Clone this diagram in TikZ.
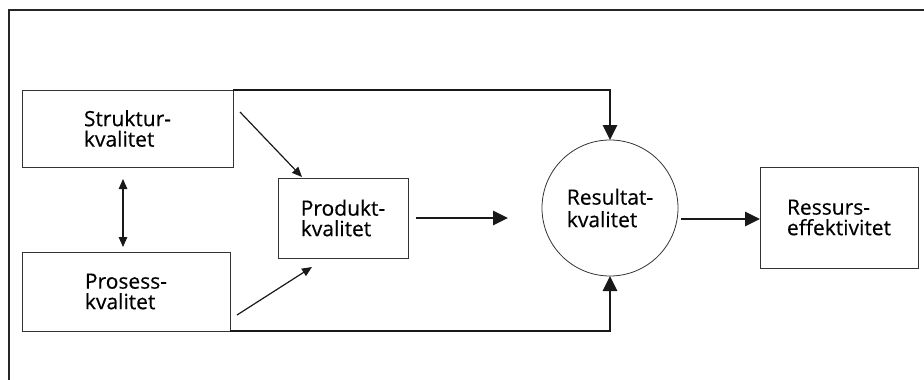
\documentclass[tikz,border=0pt]{standalone}
\usepackage{fontspec}
\setmainfont[FakeBold=0.4]{Open Sans}
\usetikzlibrary{arrows.meta}
\begin{document}
\begin{tikzpicture}[x=1pt,y=-1pt,
  box/.style={draw=black!80, line width=0.8pt, inner sep=0pt, outer sep=0pt,
    align=left, font=\fontsize{21}{20.5}\selectfont},
  ring/.style={circle, draw=black!80, line width=0.8pt, inner sep=0pt, outer sep=0pt,
    minimum size=136pt, align=left, font=\fontsize{21}{22.5}\selectfont},
  frame/.style={draw=black!85, line width=2.6pt},
  mainarrow/.style={draw=black!90, line width=2.9pt, -{Triangle[length=15pt,width=14pt]}},
  thinarrow/.style={draw=black!90, line width=1.2pt, -{Triangle[length=10pt,width=8.5pt]}},
  bothways/.style={draw=black!90, line width=1.2pt, {Triangle[length=10pt,width=8.5pt]}-{Triangle[length=10pt,width=8.5pt]}}]
\useasboundingbox (0,0) rectangle (924,380);

% open outer frame
\draw[frame] (9,382) -- (9,10) -- (926,10);

% quality nodes
\node[box, minimum width=211pt, minimum height=77pt] (S) at (127.5,128.5) {Struktur-\\kvalitet};
\node[box, minimum width=208pt, minimum height=79pt] (P) at (126,291.5) {Prosess-\\kvalitet};
\node[box, minimum width=130pt, minimum height=80pt] (D) at (343,218) {Produkt-\\kvalitet};
\node[ring] (R) at (610,208) {Resultat-\\kvalitet};
\node[box, minimum width=158pt, minimum height=101pt] (E) at (839,217.5) {Ressurs-\\effektivitet};

% free ends of the short connectors
\coordinate (s1) at (240,112);
\coordinate (s2) at (302,177);
\coordinate (p1) at (237,315);
\coordinate (p2) at (312,267);
\coordinate (d1) at (416,218);
\coordinate (d2) at (508,218);
\coordinate (e1) at (681,219);
\coordinate (u1) at (123,179);
\coordinate (u2) at (123,247);

% connectors
\draw[mainarrow] (S.north east) -| (R.north);
\draw[mainarrow] (P.south east) -| (R.south);
\draw[thinarrow] (s1) -- (s2);
\draw[thinarrow] (p1) -- (p2);
\draw[bothways] (u1) -- (u2);
\draw[mainarrow] (d1) -- (d2);
\draw[mainarrow] (e1) -- (E.west |- e1);
\end{tikzpicture}
\end{document}
